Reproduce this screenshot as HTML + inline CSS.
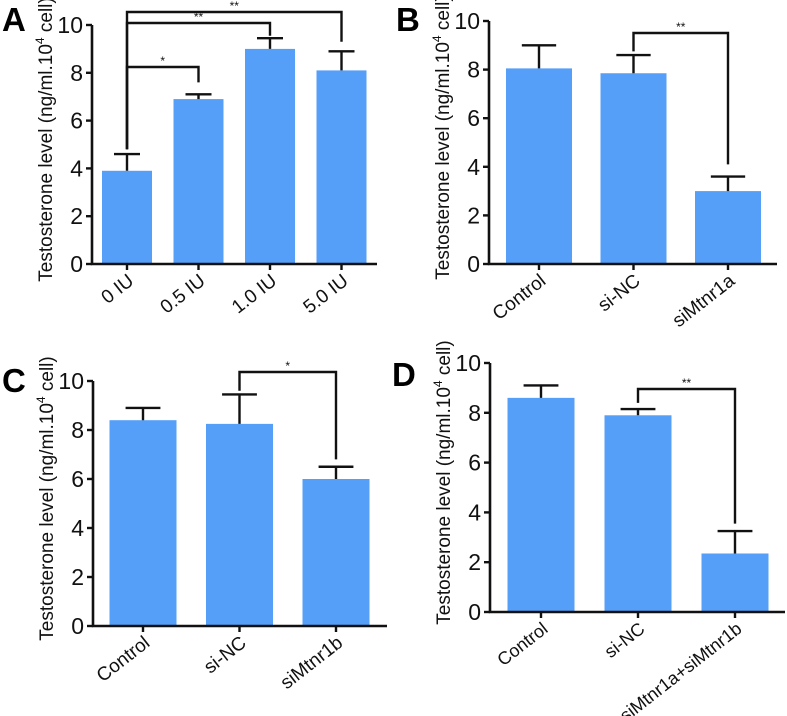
<!DOCTYPE html>
<html><head><meta charset="utf-8"><style>
body{margin:0;background:#fff;}
svg{display:block;font-family:"Liberation Sans",Arial,sans-serif;}
</style></head><body>
<svg id="fig" width="787" height="716" viewBox="0 0 787 716"></svg>
<script>
const catsA=["0 IU","0.5 IU","1.0 IU","5.0 IU"];
const valsA=[3.9,6.9,9.0,8.1];
const errA=[4.6,7.1,9.45,8.9];
const catsB=["Control","si-NC","siMtnr1a"];
const valsB=[8.05,7.85,3.0];
const errB=[9.0,8.6,3.6];
const catsC=["Control","si-NC","siMtnr1b"];
const valsC=[8.4,8.25,6.0];
const errC=[8.9,9.45,6.5];
const catsD=["Control","si-NC","siMtnr1a+siMtnr1b"];
const valsD=[8.6,7.9,2.35];
const errD=[9.1,8.15,3.25];
const yTicks=[0,2,4,6,8,10];

const NS="http://www.w3.org/2000/svg";
const svg=document.getElementById('fig');
function mk(tag,attrs,parent,text){const e=document.createElementNS(NS,tag);for(const k in attrs)e.setAttribute(k,attrs[k]);if(text!==undefined)e.textContent=text;(parent||svg).appendChild(e);return e;}

function panel(cfg){
  const g=mk('g',{});
  
  
  const y=v=>cfg.y0-(cfg.y0-cfg.y10)*v/10;
  const cx=i=>cfg.c0+cfg.step*i;
  const L=mk('text',{x:cfg.lx,y:cfg.ly,'font-size':33,'font-weight':'bold',fill:'#000'},g,cfg.id);
  
  
  cfg.vals.forEach((v,i)=>{
    const b=mk('rect',{x:cx(i)-cfg.bw/2,y:y(v),width:cfg.bw,height:y(0)-y(v),fill:'#559ff8'},g);
    
    
    const e=mk('path',{d:`M${cx(i)} ${y(v)}V${y(cfg.errs[i])}M${cx(i)-cfg.bw*0.26} ${y(cfg.errs[i])}H${cx(i)+cfg.bw*0.26}`,stroke:'#111','stroke-width':2.4,fill:'none'},g);
    
    
    const t=mk('path',{d:`M${cx(i)} ${y(0)}V${y(0)+6}`,stroke:'#111','stroke-width':2.4},g);
    
    
    const lab=mk('text',{x:0,y:0,'font-size':cfg.xfs,'text-anchor':'end',fill:'#111',transform:`translate(${cx(i)+8},${y(0)+19}) rotate(-38)`},g,cfg.cats[i]);
    
    
  });
  const ax=mk('path',{d:`M${cfg.ax} ${cfg.y10}V${y(0)}H${cfg.xEnd}`,stroke:'#111','stroke-width':2.6,fill:'none'},g);
  
  
  yTicks.forEach(v=>{
    const t=mk('path',{d:`M${cfg.ax-6} ${y(v)}H${cfg.ax}`,stroke:'#111','stroke-width':2.4},g);
    
    
    const tl=mk('text',{x:cfg.ax-9,y:y(v)+8,'font-size':23,'text-anchor':'end',fill:'#111'},g,String(v));
    
    
  });
  const yt=mk('text',{x:0,y:0,'font-size':19,'text-anchor':'middle',fill:'#111',transform:`translate(${cfg.ax-40},${(cfg.y0+cfg.y10)/2-5}) rotate(-90)`},g);
  
  
  mk('tspan',{},yt,'Testosterone level (ng/ml.10');
  mk('tspan',{dy:-8,'font-size':12},yt,'4');
  mk('tspan',{dy:8},yt,' cell)');
  cfg.brackets.forEach(br=>{
    const [a,b,hy,da,db,lbl]=br;
    const p=mk('path',{d:`M${cx(a)} ${y(da)}V${hy}H${cx(b)}V${y(db)}`,stroke:'#111','stroke-width':2.4,fill:'none'},g);
    
    
    const s=mk('text',{x:(cx(a)+cx(b))/2,y:hy-2,'font-size':12,'text-anchor':'middle',fill:'#111'},g,lbl);
    
    
  });
}
panel({id:'A',cats:catsA,vals:valsA,errs:errA,ax:92,xEnd:377,y0:264,y10:25,bw:50,c0:127,step:71.5,lx:2,ly:31,xfs:19,
  brackets:[[0,1,67,4.8,7.6,'*'],[0,2,23,4.8,9.55,'**'],[0,3,12,4.8,9.3,'**']]});
panel({id:'B',cats:catsB,vals:valsB,errs:errB,ax:489,xEnd:777,y0:264,y10:21,bw:66,c0:539,step:94.5,lx:396,ly:31,xfs:19,
  brackets:[[1,2,33,8.75,4.1,'**']]});
panel({id:'C',cats:catsC,vals:valsC,errs:errC,ax:93,xEnd:387,y0:626,y10:381,bw:67,c0:143,step:96.5,lx:2,ly:392,xfs:19,
  brackets:[[1,2,372,9.6,6.8,'*']]});
panel({id:'D',cats:catsD,vals:valsD,errs:errD,ax:490,xEnd:785,y0:612,y10:363,bw:67,c0:541,step:97,lx:392,ly:386,xfs:18,
  brackets:[[1,2,389,8.4,3.55,'**']]});
</script>
</body></html>
